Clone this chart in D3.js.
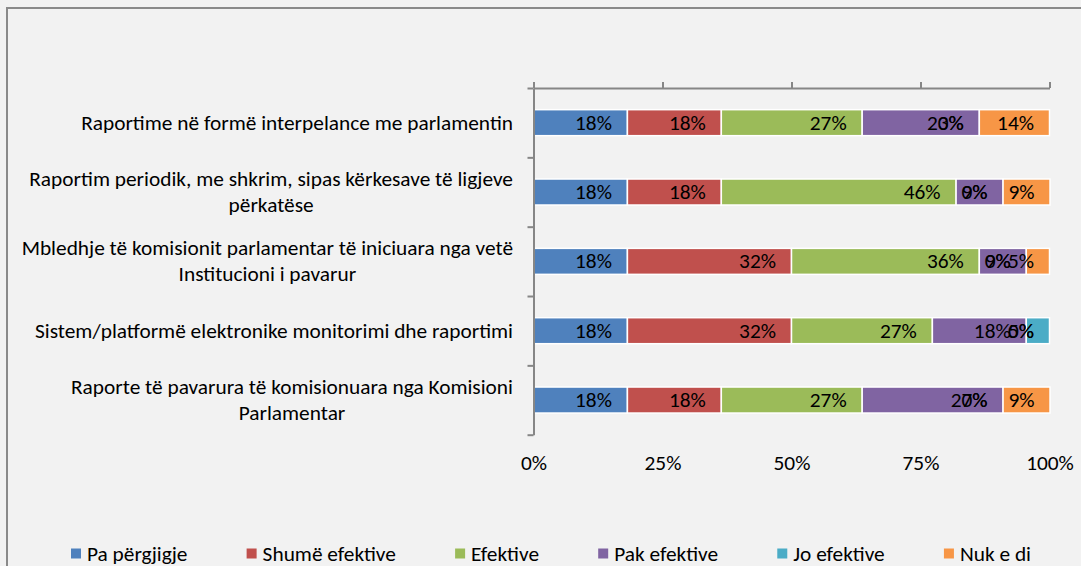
<!DOCTYPE html>
<html><head><meta charset="utf-8">
<script src="https://cdn.jsdelivr.net/npm/d3@7"></script>
<style>html,body{margin:0;padding:0;background:#f2f2f2;overflow:hidden}</style>
</head><body><svg id="c" width="1081" height="566"></svg>
<script>
const categories = [
  "Raportime në formë interpelance me parlamentin",
  "Raportim periodik, me shkrim, sipas kërkesave të ligjeve\npërkatëse",
  "Mbledhje të komisionit parlamentar të iniciuara nga vetë\nInstitucioni i pavarur",
  "Sistem/platformë elektronike monitorimi dhe raportimi",
  "Raporte të pavarura të komisionuara nga Komisioni\nParlamentar"
];
const seriesNames = ["Pa përgjigje","Shumë efektive","Efektive","Pak efektive","Jo efektive","Nuk e di"];
const paPergjigje   = [18.2, 18.2, 18.2, 18.2, 18.2];
const shumeEfektive = [18.2, 18.2, 31.8, 31.8, 18.2];
const efektive      = [27.3, 45.5, 36.4, 27.3, 27.3];
const pakEfektive   = [22.7,  9.1,  9.1, 18.2, 27.3];
const joEfektive    = [ 0.0,  0.0,  0.0,  4.5,  0.0];
const nukEDi        = [13.6,  9.1,  4.5,  0.0,  9.1];
const tickValues = [0, 25, 50, 75, 100];
const tickLabels = ["0%", "25%", "50%", "75%", "100%"];
const colors = ["#4F81BD","#C0504D","#9BBB59","#8064A2","#4BACC6","#F79646"];

const series = [paPergjigje, shumeEfektive, efektive, pakEfektive, joEfektive, nukEDi];
const FONT = "Carlito, Lato, sans-serif";
const AXIS = "#868686";

const svg = d3.select("#c");
svg.append("rect").attr("width",1081).attr("height",566).attr("fill","#f2f2f2");
svg.append("rect").attr("x",7).attr("y",8).attr("width",1300).attr("height",800)
  .attr("fill","none").attr("stroke","#8a8a8a").attr("stroke-width",2);

// font size calibration
const probe = svg.append("text").attr("font-family",FONT).attr("font-size",20).text(categories[0]);
const fs = 20 * 432 / probe.node().getComputedTextLength();
probe.remove();

const x = d3.scaleLinear().domain([0,100]).range([533.5,1049.5]);
const y = d3.scaleBand().domain(d3.range(categories.length)).range([88,434.7]).paddingInner(0.625).paddingOuter(0.3125);
const yl = d3.scaleLinear().domain([0,categories.length]).range([88,434.7]);

const stack = d3.stack().keys(d3.range(series.length)).value((d,k)=>series[k][d]);
const stacked = stack(d3.range(categories.length));

// bars
const gBars = svg.append("g");
stacked.forEach((s,k)=>{
  gBars.selectAll(null).data(s).join("rect")
    .attr("x",d=>x(d[0])).attr("y",d=>y(d.data))
    .attr("width",d=>Math.max(0,x(d[1])-x(d[0]))).attr("height",y.bandwidth())
    .attr("fill",colors[k]).attr("stroke","#fff").attr("stroke-width",1.5);
});

// axes
const gTop = svg.append("g").attr("transform","translate(0,88)")
  .call(d3.axisTop(x).tickValues(tickValues).tickSize(6).tickSizeOuter(0).tickFormat(""));
const gLeft = svg.append("g").attr("transform","translate(533.5,0)")
  .call(d3.axisLeft(yl).tickValues(d3.range(categories.length+1)).tickSize(6).tickSizeOuter(0).tickFormat(""));
[gTop,gLeft].forEach(g=>{
  g.selectAll("path,line").attr("stroke",AXIS).attr("stroke-width",2);
});

const gBottom = svg.append("g").attr("transform","translate(0,463)")
  .call(d3.axisBottom(x).tickValues(tickValues).tickSize(0).tickFormat((d,i)=>tickLabels[i]));
gBottom.select(".domain").remove();
gBottom.selectAll("text").attr("y",0).attr("dy",null).attr("dominant-baseline","central")
  .attr("font-family",FONT).attr("font-size",fs).attr("fill","#000");

// data labels
const gLab = svg.append("g").attr("font-family",FONT).attr("font-size",fs).attr("fill","#000");
stacked.forEach((s,k)=>{
  gLab.selectAll(null).data(s).join("text")
    .attr("x",d=>x(d[1])-15.5).attr("y",d=>y(d.data)+y.bandwidth()/2)
    .attr("text-anchor","end").attr("dominant-baseline","central")
    .text(d=>Math.round(series[k][d.data])+"%");
});

// category labels
const gCat = svg.append("g").attr("font-family",FONT).attr("font-size",fs).attr("fill","#000");
categories.forEach((c,i)=>{
  const lines = c.split("\n");
  const cy = y(i)+y.bandwidth()/2;
  const ts = lines.map((l,j)=>gCat.append("text").attr("text-anchor","middle")
    .attr("dominant-baseline","central")
    .attr("y",cy+(j-(lines.length-1)/2)*26).text(l));
  const maxW = d3.max(ts,t=>t.node().getComputedTextLength());
  ts.forEach(t=>t.attr("x",513-maxW/2));
});

// legend: flow layout spanning the reference extent (x 71 .. 1031)
const gLeg = svg.append("g").attr("font-family",FONT).attr("font-size",fs).attr("fill","#000")
  .attr("transform","translate(0,553.5)");
const legItems = seriesNames.map((n,k)=>{
  const g = gLeg.append("g");
  g.append("rect").attr("x",0).attr("y",-5).attr("width",10).attr("height",10).attr("fill",colors[k]);
  const t = g.append("text").attr("x",16).attr("y",0).attr("dominant-baseline","central").text(n);
  return {g, w: 16 + t.node().getComputedTextLength()};
});
const legStart = 71, legEnd = 1031;
const gap = (legEnd - legStart - d3.sum(legItems,d=>d.w)) / (legItems.length - 1);
let lx = legStart;
legItems.forEach(it=>{ it.g.attr("transform",`translate(${lx},0)`); lx += it.w + gap; });
</script></body></html>
